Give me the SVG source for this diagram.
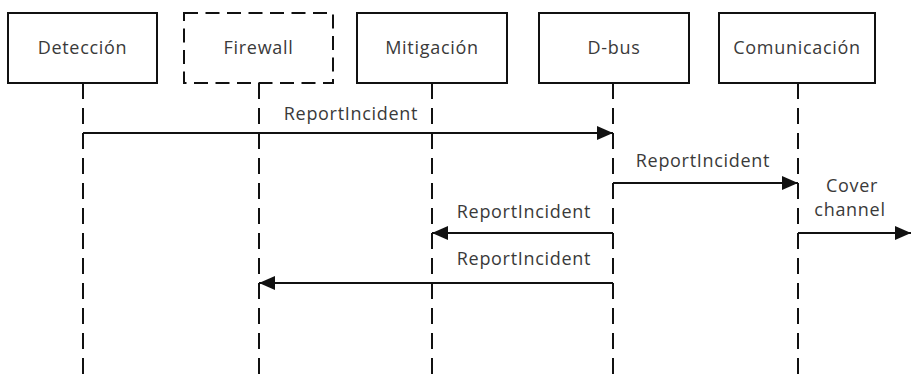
<svg xmlns="http://www.w3.org/2000/svg" width="912" height="374" viewBox="0 0 912 374">
  <style>
    .box { fill: #ffffff; stroke: #111111; stroke-width: 2; }
    .box.dashed { stroke-dasharray: 14 7.5; }
    .life { stroke: #111111; stroke-width: 2; stroke-dasharray: 16 9; fill: none; }
    .msg { stroke: #111111; stroke-width: 2; fill: none; marker-end: url(#arrow); }
    text { font-family: "Open Sans", "Noto Sans", sans-serif; font-size: 18px; letter-spacing: 0.7px; fill: #3a3a3a; text-anchor: middle; }
  </style>
  <defs>
    <marker id="arrow" markerUnits="userSpaceOnUse" markerWidth="16" markerHeight="14" refX="16" refY="7" orient="auto">
      <path d="M0,0 L16,7 L0,14 Z" fill="#111111"/>
    </marker>
  </defs>
  <rect width="912" height="374" fill="#ffffff"/>

  <!-- lifelines -->
  <g id="lifelines">
    <line class="life" x1="83" y1="83" x2="83" y2="374"/>
    <line class="life" x1="259" y1="83" x2="259" y2="374"/>
    <line class="life" x1="432" y1="83" x2="432" y2="374"/>
    <line class="life" x1="613" y1="83" x2="613" y2="374"/>
    <line class="life" x1="798" y1="83" x2="798" y2="374"/>
  </g>

  <!-- participants -->
  <g id="deteccion">
    <rect class="box" x="8" y="13" width="149" height="70"/>
    <text x="82.5" y="54">Detección</text>
  </g>
  <g id="firewall">
    <rect class="box dashed" x="184" y="13" width="149" height="70"/>
    <text x="258.5" y="54">Firewall</text>
  </g>
  <g id="mitigacion">
    <rect class="box" x="357" y="13" width="150" height="70"/>
    <text x="432" y="54">Mitigación</text>
  </g>
  <g id="dbus">
    <rect class="box" x="539" y="13" width="150" height="70"/>
    <text x="614" y="54">D-bus</text>
  </g>
  <g id="comunicacion">
    <rect class="box" x="719" y="13" width="156" height="70"/>
    <text x="797" y="54">Comunicación</text>
  </g>

  <!-- messages -->
  <g id="connectors">
    <line class="msg" x1="83" y1="133" x2="613" y2="133"/>
    <text x="351" y="120">ReportIncident</text>
    <line class="msg" x1="613" y1="183" x2="798" y2="183"/>
    <text x="703" y="167">ReportIncident</text>
    <line class="msg" x1="613" y1="233" x2="432" y2="233"/>
    <text x="524" y="218">ReportIncident</text>
    <line class="msg" x1="613" y1="283" x2="259" y2="283"/>
    <text x="524" y="265">ReportIncident</text>
    <line class="msg" x1="798" y1="233" x2="911" y2="233"/>
    <text x="852" y="192">Cover</text>
    <text x="850" y="216">channel</text>
  </g>
</svg>
